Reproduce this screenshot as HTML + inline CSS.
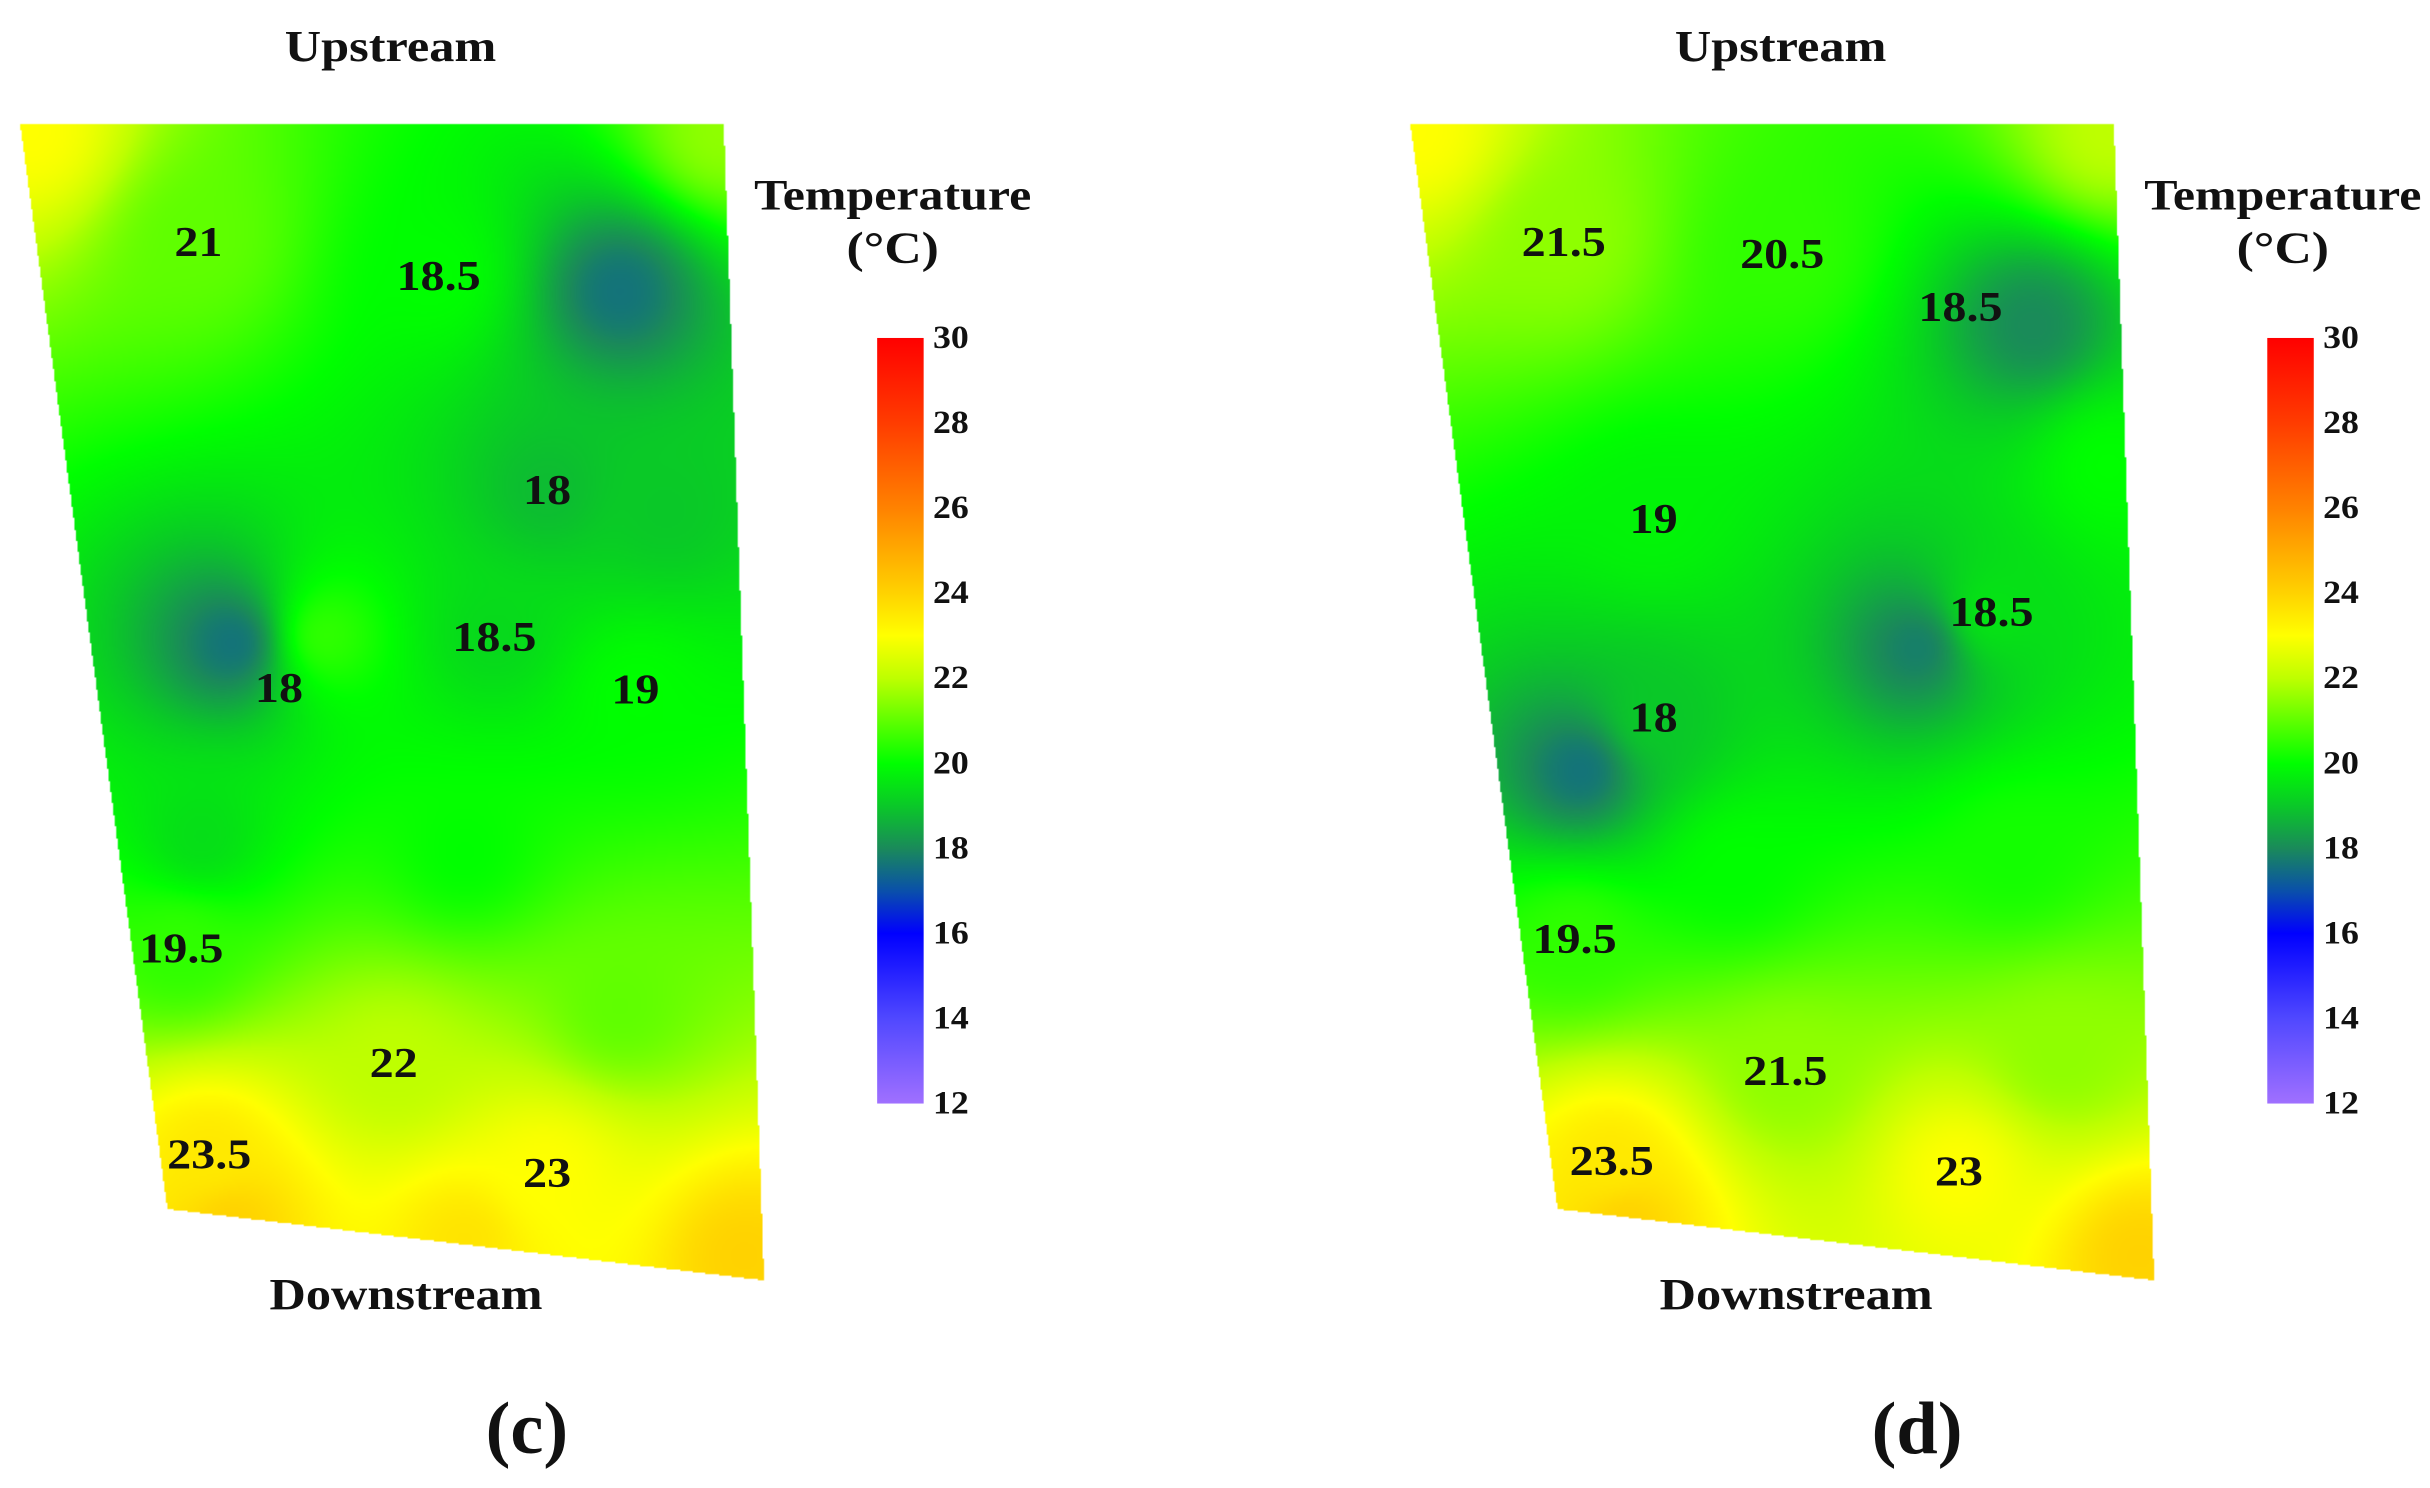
<!DOCTYPE html>
<html><head><meta charset="utf-8">
<style>
html,body{margin:0;padding:0;background:#fff;}
#wrap{position:relative;width:2430px;height:1488px;overflow:hidden;}
canvas,svg{position:absolute;left:0;top:0;width:2430px;height:1488px;}
text{font-family:"Liberation Serif",serif;font-weight:bold;fill:#111;}
</style></head>
<body>
<div id="wrap">
<canvas id="cv" width="1568" height="960"></canvas>
<svg id="sv" viewBox="0 0 1568 960"></svg>
</div>
<script>
// ---- data ----
const cTemps = [23,21.5,21,20,17.6,18.8,19,19.3,17.6,20.5,20,19.4,20,20.5,22,21,23.5,23,24,24,23.6];
const cX = [20,465,128,283,400,353,430,319,150,210,410,130,300,117,254,400,135,353,150,480,300];
const cY = [85,85,156,178,188,316,330,411,415,410,445,540,550,612,686,650,745,757,790,810,800];
const dTemps = [23,22,21.5,20.5,18,20,19.8,17.8,19.5,17.6,19,20,20.2,20.5,21.5,21.5,23.5,23,24,24];
const dX = [915,1360,1009,1150,1312,1360,1067,1237,1285,1020,1067,1120,1300,1016,1152,1330,1040,1264,1050,1380];
const dY = [85,85,156,164,210,300,335,418,395,497,463,560,550,606,691,680,749,756,790,810];
const cLabels = ["21","18.5","18","18.5","18","19","19.5","22","23.5","23"];
const cLabX = [128,283,353,319,180,410,117,254,135,353];
const cLabY = [156,178,316,411,444,445,612,686,745,757];
const dLabels = ["21.5","20.5","18.5","19","18.5","18","19.5","21.5","23.5","23"];
const dLabX = [1009,1150,1265,1067,1285,1067,1016,1152,1040,1264];
const dLabY = [156,164,198,335,395,463,606,691,749,756];
const ticks = [30,28,26,24,22,20,18,16,14,12];
const stops = [[12,[160,112,255]],[14,[80,72,255]],[16,[0,0,255]],[17,[10,80,170]],[18,[26,138,90]],[19,[10,200,40]],[20,[0,255,0]],[22,[190,255,0]],[23,[255,255,0]],[24,[255,210,0]],[26,[255,130,0]],[28,[255,60,0]],[30,[255,0,0]]];
// ---- helpers ----
function colorOf(t){
  if(t<=stops[0][0]) return stops[0][1];
  for(let i=1;i<stops.length;i++){
    if(t<=stops[i][0]){const a=stops[i-1],b=stops[i];const f=(t-a[0])/(b[0]-a[0]);
      return [0,1,2].map(k=>a[1][k]+(b[1][k]-a[1][k])*f);}
  }
  return stops[stops.length-1][1];
}
function inQuad(x,y,q){
  for(let i=0;i<4;i++){const a=q[i],b=q[(i+1)%4];
    const c=(b[0]-a[0])*(y-a[1])-(b[1]-a[1])*(x-a[0]);
    if(c<0)return false;}return true;
}
const quadC=[[13,80],[467,80],[493,826],[108,780]];
const quadD=[[910,80],[1364,80],[1390,826],[1005,780]];
const cv=document.getElementById('cv');const ctx=cv.getContext('2d');
const W=1568,H=960;
const img=ctx.createImageData(W,H);
function idw(x,y,X,Y,T){let sw=0,sv=0;for(let i=0;i<T.length;i++){const d2=(x-X[i])**2+(y-Y[i])**2+60;const w=1/(d2*d2**0.25);sw+=w;sv+=w*T[i];}return sv/sw;}
for(let py=0;py<H;py++)for(let px=0;px<W;px++){
  const x=px+0.5,y=py+0.5;let t=null;
  if(inQuad(x,y,quadC))t=idw(x,y,cX,cY,cTemps);
  else if(inQuad(x,y,quadD))t=idw(x,y,dX,dY,dTemps);
  const o=(py*W+px)*4;
  if(t===null){img.data[o]=255;img.data[o+1]=255;img.data[o+2]=255;img.data[o+3]=255;continue;}
  const c=colorOf(t);img.data[o]=c[0];img.data[o+1]=c[1];img.data[o+2]=c[2];img.data[o+3]=255;
}
ctx.putImageData(img,0,0);
// ---- svg ----
const NS="http://www.w3.org/2000/svg";const sv=document.getElementById('sv');
function txt(x,y,s,size,name,sx,anchor){const e=document.createElementNS(NS,'text');
  e.setAttribute('transform','translate('+x+','+y+') scale('+(sx||1.18)+',1)');
  e.setAttribute('font-size',size);e.setAttribute('text-anchor',anchor||'middle');e.setAttribute('dominant-baseline','central');e.textContent=s;
  
  
  sv.appendChild(e);return e;}
const defs=document.createElementNS(NS,'defs');
const lg=document.createElementNS(NS,'linearGradient');lg.setAttribute('id','cb');lg.setAttribute('x1','0');lg.setAttribute('y1','1');lg.setAttribute('x2','0');lg.setAttribute('y2','0');
stops.forEach(s=>{const st=document.createElementNS(NS,'stop');st.setAttribute('offset',(s[0]-12)/18);st.setAttribute('stop-color','rgb('+s[1].map(Math.round).join(',')+')');lg.appendChild(st);});
defs.appendChild(lg);sv.appendChild(defs);
const yScale=t=>712-(t-12)/18*(712-218);
[0,897].forEach((off,pi)=>{
  const p=pi===0?'c':'d';
  txt(252+off,30,'Upstream',29,'upstream-label-'+p,1.12);
  txt(262+off,835,'Downstream',29,'downstream-label-'+p,1.12);
  txt(340+off,922,'('+p+')',48,'panel-label-'+p,1.0);
  txt(576+off,126,'Temperature',28,'colorbar-title-'+p,1.15);
  txt(576+off,160,'(°C)',29,'colorbar-unit-'+p,1.15);
  const r=document.createElementNS(NS,'rect');r.setAttribute('x',566+off);r.setAttribute('y',yScale(30));r.setAttribute('width',30);r.setAttribute('height',yScale(12)-yScale(30));r.setAttribute('fill','url(#cb)');
  
  
  sv.appendChild(r);
  ticks.forEach(t=>{txt(602+off,yScale(t),String(t),21,'colorbar-tick-'+t,1.1,'start');});
  const L=pi===0?cLabels:dLabels,LX=pi===0?cLabX:dLabX,LY=pi===0?cLabY:dLabY;
  L.forEach((s,i)=>txt(LX[i],LY[i],s,27,'value-label-'+p,1.15));
});
</script>
</body></html>
